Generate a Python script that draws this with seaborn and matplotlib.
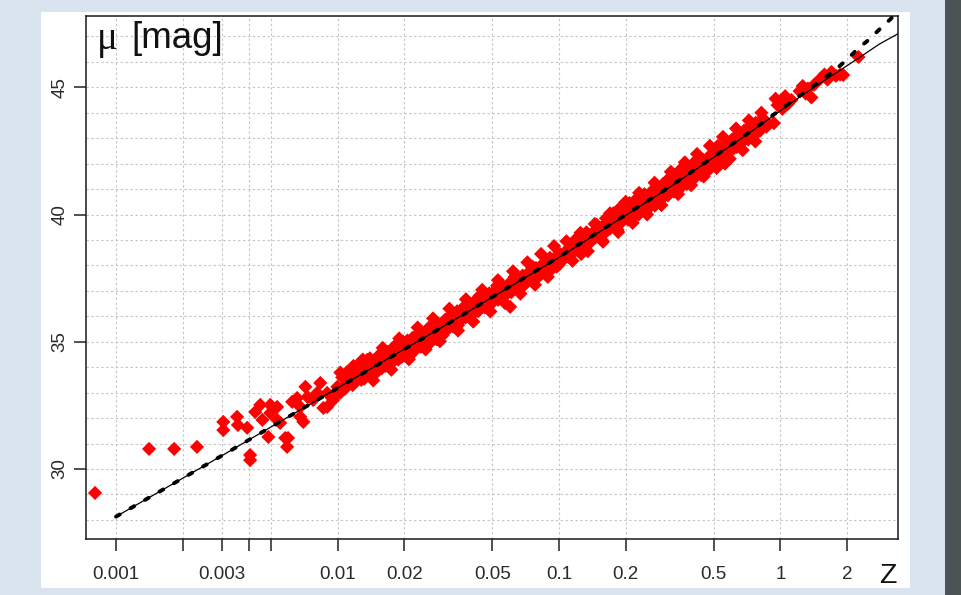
import matplotlib
matplotlib.use("Agg")
import matplotlib.pyplot as plt
import numpy as np
import pandas as pd
import seaborn as sns

from matplotlib.patches import Rectangle
from matplotlib.ticker import FixedLocator, FixedFormatter, NullLocator, MultipleLocator


# supernovae (redshift z, distance modulus mu)
lowz_z = [0.000804, 0.00141, 0.00183, 0.00232, 0.00305, 0.00305, 0.00352, 0.00355,
          0.00391, 0.00403, 0.00403, 0.00425, 0.00448, 0.00458, 0.00487, 0.00497,
          0.00497, 0.00512, 0.00534, 0.00534, 0.00551, 0.00581, 0.00598, 0.00592,
          0.00624, 0.00657, 0.00679, 0.00701, 0.00716, 0.00679, 0.00732, 0.00776,
          0.00809, 0.00836, 0.00863, 0.00898, 0.00898, 0.00946, 0.00956, 0.00998,
          0.0103, 0.0103, 0.01107, 0.01178, 0.0128, 0.0136, 0.0141, 0.0152]
lowz_mu = [29.06, 30.79, 30.79, 30.87, 31.85, 31.53, 32.05, 31.73,
           31.62, 30.55, 30.35, 32.24, 32.52, 31.93, 31.26, 32.52,
           32.20, 32.40, 32.44, 31.93, 31.81, 31.22, 31.22, 30.87,
           32.64, 32.79, 32.05, 31.85, 33.23, 32.44, 32.83, 32.71,
           32.99, 33.38, 32.40, 32.99, 32.44, 32.79, 32.71, 33.23,
           33.79, 33.00, 33.36, 33.89, 33.50, 34.29, 33.78, 34.02]

near_z = [0.0105, 0.0108, 0.0110, 0.0112, 0.0115, 0.0118, 0.0120, 0.0122, 0.0125, 0.0127,
          0.0130, 0.0132, 0.0135, 0.0138, 0.0140, 0.0143, 0.0145, 0.0148, 0.0150, 0.0153,
          0.0155, 0.0158, 0.0160, 0.0163, 0.0165, 0.0168, 0.0170, 0.0173, 0.0175, 0.0178,
          0.0180, 0.0183, 0.0185, 0.0188, 0.0190, 0.0193, 0.0195, 0.0198, 0.0200, 0.0203,
          0.0207, 0.0210, 0.0214, 0.0218, 0.0222, 0.0226, 0.0230, 0.0234, 0.0238, 0.0242,
          0.0246, 0.0250, 0.0255, 0.0260, 0.0265, 0.0270, 0.0275, 0.0280, 0.0286, 0.0292,
          0.0298,
          0.0117, 0.0133, 0.0152, 0.0172, 0.0187, 0.0212, 0.0236, 0.0258, 0.0283]
near_mu = [33.60, 33.15, 33.80, 33.45, 33.62, 34.05, 33.40, 33.85, 33.70, 34.20,
           33.95, 33.55, 34.10, 33.85, 34.35, 34.05, 33.70, 34.25, 34.00, 34.45,
           34.15, 33.95, 34.55, 34.30, 34.05, 34.60, 34.40, 34.15, 34.70, 34.45,
           34.25, 34.85, 34.55, 34.30, 34.80, 34.60, 34.40, 35.00, 34.75, 34.50,
           35.05, 34.85, 34.60, 35.15, 34.90, 34.70, 35.30, 35.05, 34.80, 35.35,
           35.10, 34.90, 35.45, 35.25, 35.00, 35.60, 35.35, 35.10, 35.70, 35.50,
           35.25,
           33.30, 33.95, 33.85, 34.60, 34.95, 34.45, 35.20, 35.55, 35.30]

mid_z = [0.0305, 0.0311, 0.0318, 0.0325, 0.0332, 0.0340, 0.0347, 0.0355, 0.0362, 0.0370,
         0.0378, 0.0386, 0.0395, 0.0404, 0.0413, 0.0422, 0.0432, 0.0442, 0.0452, 0.0462,
         0.0473, 0.0484, 0.0495, 0.0507, 0.0519, 0.0531, 0.0543, 0.0556, 0.0569, 0.0582,
         0.0596, 0.0602, 0.0610, 0.0624, 0.0639, 0.0654, 0.0669, 0.0685, 0.0701, 0.0717,
         0.0734, 0.0751, 0.0769, 0.0787, 0.0805, 0.0824, 0.0843, 0.0863, 0.0883, 0.0904,
         0.0925, 0.0947, 0.0969, 0.0992,
         0.0315, 0.0350, 0.0392, 0.0437, 0.0480, 0.0525, 0.0575, 0.0630, 0.0690, 0.0760,
         0.0830, 0.0910, 0.0975]
mid_mu = [35.85, 35.45, 35.70, 36.00, 35.60, 35.90, 36.20, 35.80, 36.10, 36.35,
          35.95, 36.25, 36.50, 36.05, 36.40, 36.65, 36.20, 36.55, 36.75, 36.35,
          36.70, 36.90, 36.50, 36.85, 37.05, 36.65, 37.00, 37.15, 36.80, 37.15,
          37.30, 36.37, 36.95, 37.30, 37.45, 37.10, 37.45, 37.60, 37.25, 37.60,
          37.75, 37.40, 37.75, 37.90, 37.55, 37.90, 38.05, 37.70, 38.05, 38.20,
          37.85, 38.20, 38.35, 38.00,
          35.95, 35.65, 36.30, 36.80, 36.40, 37.20, 36.90, 37.55, 37.30, 37.95,
          37.65, 38.30, 37.95]

far_z = [0.101, 0.104, 0.107, 0.110, 0.113, 0.116, 0.119, 0.122, 0.125, 0.128,
         0.131, 0.134, 0.137, 0.140, 0.143, 0.146, 0.150, 0.154, 0.158, 0.162,
         0.166, 0.170, 0.174, 0.178, 0.182, 0.186, 0.190, 0.194, 0.198,
         0.118, 0.133, 0.148, 0.163, 0.176, 0.188, 0.196, 0.126, 0.156, 0.184,
         0.202, 0.205, 0.208, 0.211, 0.214, 0.217, 0.220, 0.223, 0.226, 0.229,
         0.232, 0.235, 0.238, 0.241, 0.245, 0.249, 0.253, 0.257, 0.261, 0.265,
         0.269, 0.273, 0.277, 0.281, 0.285, 0.290, 0.295, 0.300, 0.305, 0.310,
         0.315, 0.320, 0.325, 0.330, 0.336, 0.342, 0.348, 0.354, 0.360, 0.366,
         0.372, 0.378, 0.385, 0.392, 0.399, 0.406, 0.414, 0.422, 0.430, 0.438,
         0.447, 0.456, 0.465, 0.474, 0.484, 0.494, 0.504, 0.514, 0.525, 0.536,
         0.547, 0.558, 0.570, 0.582, 0.594,
         0.243, 0.271, 0.312, 0.352, 0.402, 0.432, 0.462, 0.522, 0.562]
far_mu = [38.45, 38.20, 38.55, 38.40, 38.70, 38.50, 38.80, 38.65, 38.95, 38.75,
          39.05, 38.85, 39.20, 38.95, 39.30, 39.10, 39.45, 39.20, 39.55, 39.30,
          39.65, 39.45, 39.75, 39.55, 39.90, 39.60, 40.00, 39.75, 40.10,
          39.00, 39.30, 39.60, 39.85, 40.05, 40.25, 40.35, 38.45, 39.00, 39.40,
          40.25, 39.80, 40.45, 40.05, 40.30, 39.90, 40.55, 40.20, 40.40, 40.00,
          40.65, 40.35, 40.55, 40.15, 40.75, 40.45, 40.65, 40.30, 40.90, 40.60,
          40.80, 40.45, 41.05, 40.75, 40.95, 40.60, 41.20, 40.90, 41.10, 40.75,
          41.35, 41.05, 41.25, 40.90, 41.50, 41.20, 41.40, 41.05, 41.65, 41.35,
          41.55, 41.20, 41.80, 41.50, 41.70, 41.40, 41.95, 41.65, 41.85, 41.55,
          42.15, 41.85, 42.05, 41.75, 42.35, 42.05, 42.25, 41.95, 42.55, 42.20,
          42.45, 42.15, 42.75, 42.45, 42.65,
          40.80, 40.35, 41.40, 41.75, 42.00, 42.20, 41.70, 42.70, 42.00]

deep_z = [0.605, 0.615, 0.625, 0.635, 0.645, 0.655, 0.665, 0.675, 0.685, 0.695,
          0.705, 0.716, 0.727, 0.738, 0.749, 0.761, 0.773, 0.785, 0.797, 0.810,
          0.823, 0.836, 0.850, 0.864, 0.934,
          0.95, 0.97, 1.00, 1.02, 1.05, 1.08, 1.12, 1.22, 1.26, 1.30,
          1.33, 1.38, 1.42, 1.52, 1.58, 1.63, 1.70, 1.78, 1.86, 1.92, 2.25]
deep_mu = [42.95, 42.60, 42.90, 42.65, 43.15, 42.80, 43.05, 42.85, 43.30, 43.00,
           43.20, 42.95, 43.45, 43.15, 43.35, 43.10, 43.60, 43.30, 43.50, 43.30,
           43.75, 43.55, 43.70, 43.45, 43.59,
           44.55, 44.30, 44.45, 44.15, 44.65, 44.35, 44.50, 44.85, 45.05, 44.75,
           44.95, 44.60, 45.10, 45.35, 45.50, 45.30, 45.60, 45.45, 45.50, 45.48, 46.19]

# points on the upper and lower edge of the band
upper_z = [0.013, 0.016, 0.019, 0.023, 0.027, 0.032, 0.038, 0.045, 0.053, 0.062,
           0.072, 0.083, 0.095, 0.108, 0.125, 0.145, 0.17, 0.2, 0.23, 0.27,
           0.32, 0.37, 0.42, 0.48, 0.55, 0.63, 0.72, 0.82]
upper_mu = [34.30, 34.76, 35.13, 35.56, 35.92, 36.30, 36.67, 37.04, 37.42, 37.77,
            38.12, 38.45, 38.76, 38.95, 39.28, 39.63, 40.05, 40.50, 40.85, 41.25,
            41.68, 42.05, 42.38, 42.70, 43.05, 43.38, 43.70, 44.00]
lower_z = [0.0145, 0.0175, 0.021, 0.025, 0.029, 0.035, 0.041, 0.049, 0.057, 0.067,
           0.078, 0.089, 0.115, 0.135, 0.158, 0.185, 0.215, 0.25, 0.29, 0.345,
           0.395, 0.45, 0.515, 0.59, 0.675, 0.77]
lower_mu = [33.48, 33.90, 34.31, 34.70, 35.02, 35.44, 35.79, 36.19, 36.52, 36.89,
            37.24, 37.55, 38.18, 38.56, 38.93, 39.31, 39.67, 40.00, 40.37, 40.80,
            41.15, 41.49, 41.83, 42.19, 42.53, 42.87]

# model curves
solid_z = [0.001, 0.003, 0.01, 0.03, 0.1, 0.3, 0.5, 0.7, 1.0, 1.3, 1.6, 2.0, 2.3, 2.8, 3.39]
solid_mu = [28.13, 30.52, 33.18, 35.60, 38.31, 40.94, 42.25, 43.12, 44.08, 44.78,
            45.30, 45.85, 46.20, 46.70, 47.10]
dashed_z = [0.001, 0.003, 0.01, 0.03, 0.1, 0.3, 0.5, 0.7, 1.0, 1.27, 1.6, 1.81,
            2.03, 2.25, 2.5, 2.78, 3.14, 3.35]
dashed_mu = [28.13, 30.52, 33.18, 35.60, 38.33, 40.96, 42.27, 43.14, 44.12, 44.77,
             45.40, 45.76, 46.15, 46.54, 46.86, 47.25, 47.68, 47.95]

x_ticks = [0.001, 0.002, 0.003, 0.004, 0.005, 0.01, 0.02, 0.05, 0.1, 0.2, 0.5, 1, 2]
x_labels = ['0.001', '', '0.003', '', '', '0.01', '0.02', '0.05', '0.1', '0.2',
            '0.5', '1', '2']
y_ticks = [30, 35, 40, 45]

W, H = 961, 595


def main():
    sns.set_style("ticks")
    plt.rcParams['font.family'] = ['Liberation Sans', 'DejaVu Sans']

    sn = pd.DataFrame({
        'z': lowz_z + near_z + mid_z + far_z + deep_z + upper_z + lower_z,
        'mu': lowz_mu + near_mu + mid_mu + far_mu + deep_mu + upper_mu + lower_mu,
    })
    solid = pd.DataFrame({'z': solid_z, 'mu': solid_mu})
    dashed = pd.DataFrame({'z': dashed_z, 'mu': dashed_mu})

    fig = plt.figure(figsize=(W / 100, H / 100), dpi=100, facecolor='#d9e4ef')
    # white image panel and the dark strip on the right
    fig.add_artist(Rectangle((41 / W, 1 - 588 / H), (910 - 41) / W, (588 - 12) / H,
                             transform=fig.transFigure, facecolor='white',
                             edgecolor='none', zorder=-2))
    fig.add_artist(Rectangle((945 / W, 0), 16 / W, 1, transform=fig.transFigure,
                             facecolor='#4b5354', edgecolor='none', zorder=-2))

    ax = fig.add_axes([85.5 / W, 1 - 539 / H, (898 - 85.5) / W, (539 - 16) / H])
    ax.set_xscale('log')
    ax.set_facecolor('white')

    sns.scatterplot(data=sn, x='z', y='mu', marker='D', s=52, color='red',
                    edgecolor='none', linewidth=0, legend=False, ax=ax, zorder=2)
    sns.lineplot(data=solid, x='z', y='mu', color='black', lw=0.9, sort=False,
                 estimator=None, legend=False, ax=ax, zorder=3)
    sns.lineplot(data=dashed, x='z', y='mu', color='black', lw=2.8, sort=False,
                 estimator=None, legend=False, ax=ax, zorder=4,
                 linestyle=(0, (1.1, 3.2)), dash_capstyle='round')

    ax.set_xlim(7.28e-4, 3.393)
    ax.set_ylim(27.25, 47.80)

    ax.xaxis.set_major_locator(FixedLocator(x_ticks))
    ax.xaxis.set_major_formatter(FixedFormatter(x_labels))
    ax.xaxis.set_minor_locator(NullLocator())
    ax.yaxis.set_major_locator(FixedLocator(y_ticks))
    ax.yaxis.set_minor_locator(MultipleLocator(1))

    grid_kw = dict(color='#c6c6c6', linestyle=(0, (2.2, 2.2)), linewidth=0.8)
    ax.grid(True, axis='x', which='major', **grid_kw)
    ax.grid(True, axis='y', which='both', **grid_kw)
    ax.set_axisbelow(True)

    ax.tick_params(axis='both', which='major', length=8.6, width=1.1,
                   color='#222222', labelsize=13.5, labelcolor='#2a2a2a',
                   direction='out')
    ax.tick_params(axis='x', which='major', pad=11)
    ax.tick_params(axis='y', which='major', pad=3.5, labelrotation=90)
    ax.tick_params(axis='y', which='minor', length=0)
    for lab in ax.get_yticklabels():
        lab.set_va('center')

    for s in ax.spines.values():
        s.set_visible(True)
        s.set_linewidth(1.1)
        s.set_color('#1a1a1a')

    ax.set_xlabel('')
    ax.set_ylabel('')

    fig.text(97 / W, 1 - 48.5 / H, 'μ', fontsize=28, ha='left', va='baseline',
             family=['Liberation Serif', 'DejaVu Serif'], color='#111111')
    fig.text(131.5 / W, 1 - 48.5 / H, '[mag]', fontsize=26.5, ha='left',
             va='baseline', color='#111111')
    fig.text(879 / W, 1 - 583 / H, 'Z', fontsize=20.5, ha='left', va='baseline',
             color='#111111')

    fig.savefig('out.png', dpi=100, facecolor=fig.get_facecolor())


if __name__ == '__main__':
    main()
